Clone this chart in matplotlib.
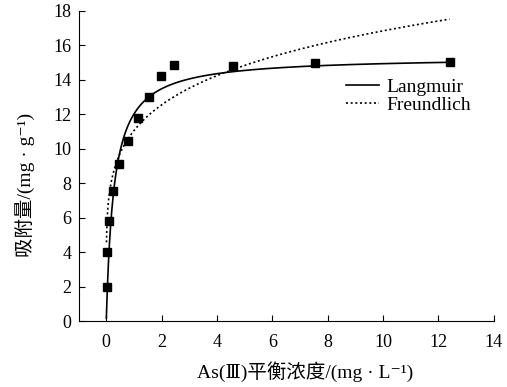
import numpy as np
import matplotlib.pyplot as plt

plt.rcParams['font.family'] = ['Liberation Serif', 'DejaVu Serif', 'Noto Sans CJK SC']

# equilibrium concentration (mg/L) and adsorbed amount (mg/g)
ce = [0.01, 0.02, 0.09, 0.25, 0.45, 0.79, 1.13, 1.54, 1.97, 2.45, 4.59, 7.53, 12.4]
qe = [1.99, 3.99, 5.82, 7.54, 9.11, 10.43, 11.76, 12.98, 14.24, 14.84, 14.8, 14.96, 15.03]

# fitted isotherm parameters
qm, kl = 15.35, 3.6          # Langmuir
kf, inv_n = 11.05, 0.183     # Freundlich

c_lang = np.concatenate([np.geomspace(0.003, 0.5, 200), np.linspace(0.5, 12.4, 400)[1:]])
q_lang = qm * kl * c_lang / (1 + kl * c_lang)

c_freu = np.concatenate([np.geomspace(0.008, 0.5, 200), np.linspace(0.5, 12.4, 400)[1:]])
q_freu = kf * c_freu ** inv_n

fig = plt.figure(figsize=(5.07, 3.87), dpi=100)
ax = fig.add_axes([0.155, 0.1705, 0.819, 0.8015])

ax.plot(c_lang, q_lang, color='black', lw=1.2, label='Langmuir')
ax.plot(c_freu, q_freu, color='black', lw=1.2, ls=(0, (1.2, 1.6)), label='Freundlich')
ax.plot(ce, qe, ls='none', marker='s', ms=6, color='black')

ax.set_xlim(-1, 14)
ax.set_ylim(0, 18)
ax.set_xticks(range(0, 15, 2))
ax.set_yticks(range(0, 19, 2))
ax.spines['top'].set_visible(False)
ax.spines['right'].set_visible(False)
ax.tick_params(direction='in', length=4.5, labelsize=13)
ax.tick_params(axis='x', pad=9)
ax.tick_params(axis='y', pad=5)

ax.set_xlabel('As(Ⅲ)平衡浓度/(mg · L⁻¹)', fontsize=14)
ax.set_ylabel('吸附量/(mg · g⁻¹)', fontsize=14)
ax.xaxis.set_label_coords(0.545, -0.13)
ax.yaxis.set_label_coords(-0.105, 0.438)

ax.legend(loc='center left', bbox_to_anchor=(0.645, 0.726), frameon=False,
          fontsize=14, handlelength=1.7, handletextpad=0.35, borderpad=0,
          borderaxespad=0, labelspacing=0.02)

fig.savefig('out.png', dpi=100)
